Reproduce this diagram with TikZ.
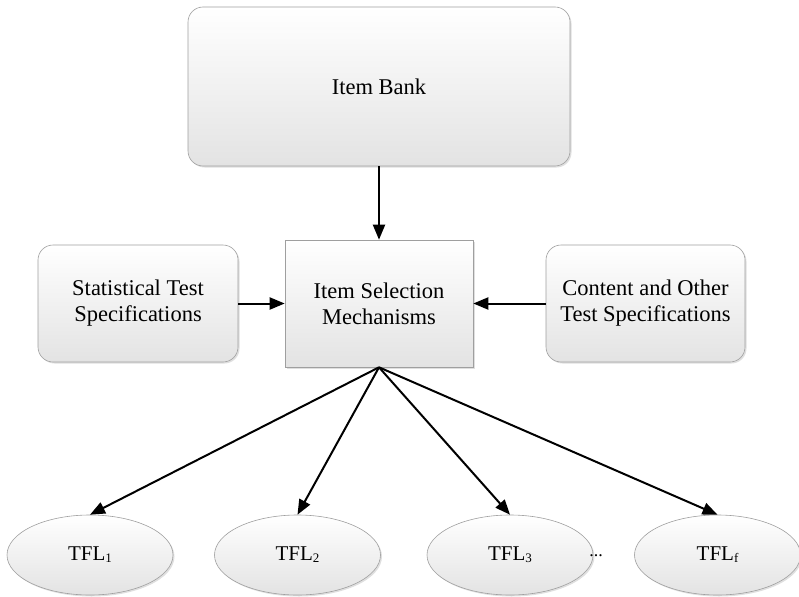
\documentclass[tikz,border=0pt]{standalone}
\usepackage{fontspec}
\setmainfont{Liberation Serif}
\usetikzlibrary{shapes.geometric,arrows.meta,shadows}
\begin{document}
\begin{tikzpicture}[x=1pt,y=-1pt,
  boxbase/.style={draw=gray!75, line width=0.6pt, top color=white, bottom color=gray!22,
    drop shadow={shadow xshift=1.5pt, shadow yshift=-1.5pt, opacity=0.25},
    align=center, font=\fontsize{22.5}{26}\selectfont, inner sep=0pt},
  roundbox/.style={boxbase, rounded corners=15pt},
  tfl/.style={boxbase, ellipse, minimum width=166pt, minimum height=80pt, font=\fontsize{21}{24}\selectfont},
  conn/.style={line width=2pt, -{Triangle[length=15pt,width=12pt]}}
]
\useasboundingbox (0,0) rectangle (799,596);
\node[roundbox, minimum width=382pt, minimum height=159pt] (bank) at (379,86.5) {Item Bank};
\node[boxbase, minimum width=188pt, minimum height=127pt] (ism) at (379,303.5) {Item Selection\\Mechanisms};
\node[roundbox, minimum width=200pt, minimum height=117pt] (stat) at (138,303.5) {Statistical Test\\Specifications};
\node[roundbox, minimum width=199pt, minimum height=117pt] (cont) at (645.5,303.5) {Content and Other\\Test Specifications};
\newcommand{\tsub}[1]{{\fontsize{13}{15}\selectfont\raisebox{-2pt}{#1}}}
\node[tfl] (t1) at (90,555) {TFL\tsub{1}};
\node[tfl] (t2) at (297.5,555) {TFL\tsub{2}};
\node[tfl] (t3) at (510,555) {TFL\tsub{3}};
\node[tfl] (tf) at (717.5,555) {TFL\tsub{f}};
\node[font=\fontsize{18}{20}\selectfont, inner sep=0pt] (dots) at (596,556) {...};
\draw[conn] (bank.south) -- (ism.north);
\draw[conn] (stat.east) -- (ism.west);
\draw[conn] (cont.west) -- (ism.east);
\draw[conn] (ism.south) -- (t1.north);
\draw[conn] (ism.south) -- (t2.north);
\draw[conn] (ism.south) -- (t3.north);
\draw[conn] (ism.south) -- (tf.north);
\end{tikzpicture}
\end{document}
